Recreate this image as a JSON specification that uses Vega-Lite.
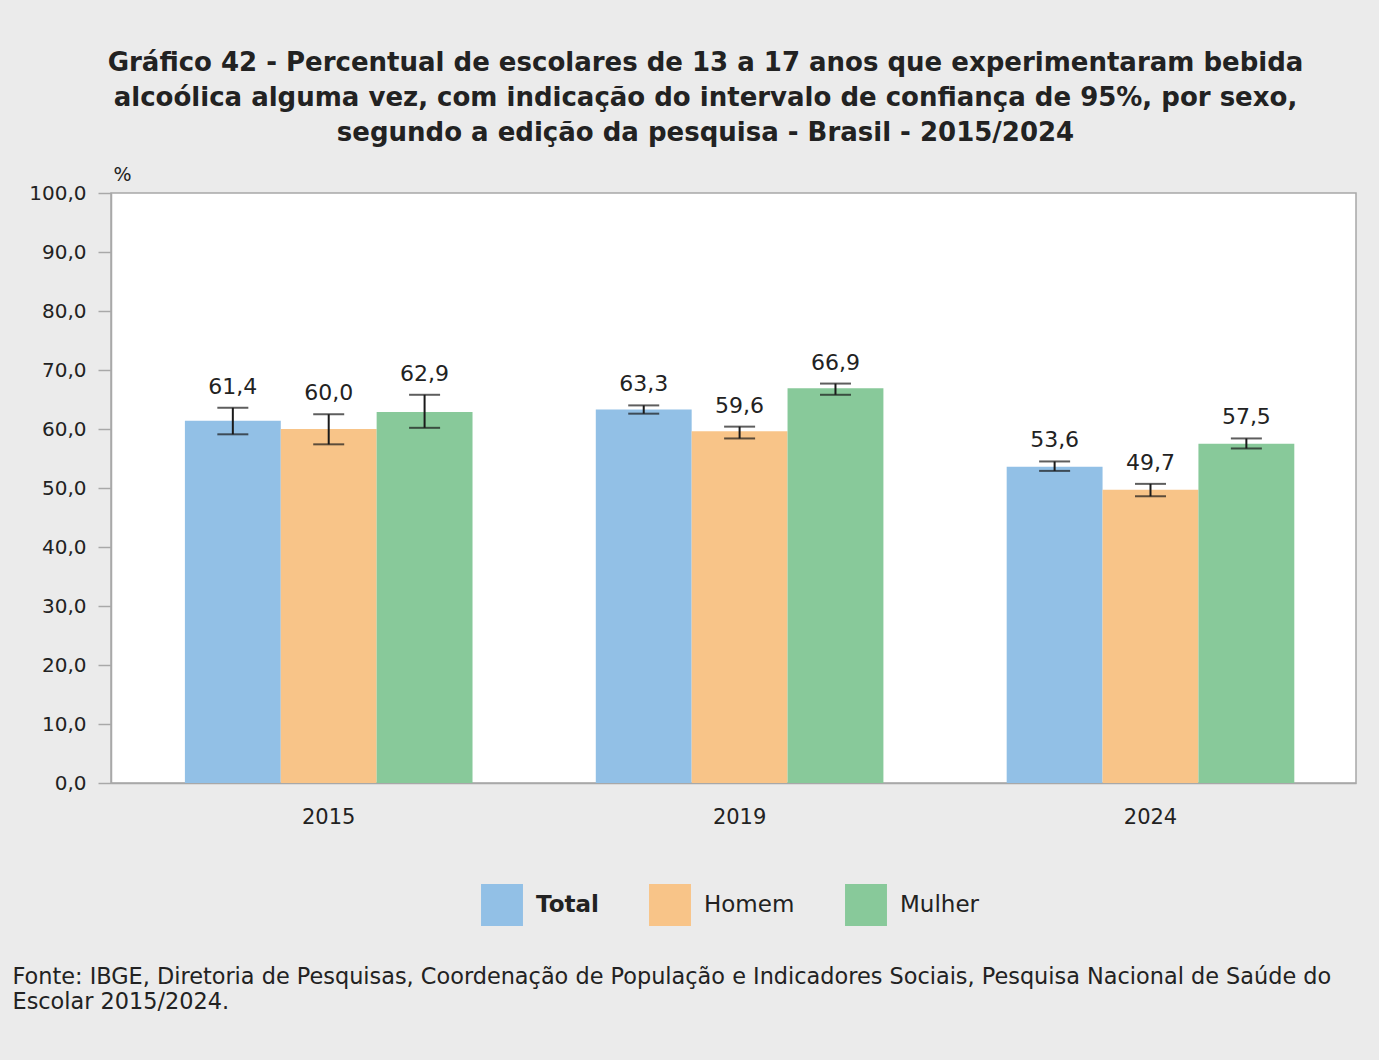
{
  "$schema": "https://vega.github.io/schema/vega-lite/v6.json",
  "background": "#ebebeb",
  "autosize": {"type": "none"},
  "padding": {"left": 111, "top": 193, "right": 23, "bottom": 277},
  "width": 1245,
  "height": 590,
  "config": {
    "locale": {"number": {"decimal": ",", "thousands": ".", "grouping": [3], "currency": ["R$", ""]}},
    "font": "DejaVu Sans",
    "view": {"fill": "white", "stroke": "#a8a8a8", "strokeWidth": 1.5}
  },
  "title": {
    "text": [
      "Gráfico 42 - Percentual de escolares de 13 a 17 anos que experimentaram bebida",
      "alcoólica alguma vez, com indicação do intervalo de confiança de 95%, por sexo,",
      "segundo a edição da pesquisa - Brasil - 2015/2024"
    ],
    "font": "DejaVu Sans",
    "fontSize": 26,
    "fontWeight": "bold",
    "color": "#222222",
    "lineHeight": 35,
    "anchor": "middle",
    "frame": "group",
    "dx": -28,
    "offset": 19
  },
  "data": {
    "values": [
      {"ano": "2015", "sexo": "Total", "valor": 61.4, "lo": 59.1, "hi": 63.6},
      {"ano": "2015", "sexo": "Homem", "valor": 60.0, "lo": 57.4, "hi": 62.5},
      {"ano": "2015", "sexo": "Mulher", "valor": 62.9, "lo": 60.2, "hi": 65.8},
      {"ano": "2019", "sexo": "Total", "valor": 63.3, "lo": 62.6, "hi": 64.0},
      {"ano": "2019", "sexo": "Homem", "valor": 59.6, "lo": 58.4, "hi": 60.4},
      {"ano": "2019", "sexo": "Mulher", "valor": 66.9, "lo": 65.8, "hi": 67.7},
      {"ano": "2024", "sexo": "Total", "valor": 53.6, "lo": 52.9, "hi": 54.5},
      {"ano": "2024", "sexo": "Homem", "valor": 49.7, "lo": 48.6, "hi": 50.7},
      {"ano": "2024", "sexo": "Mulher", "valor": 57.5, "lo": 56.7, "hi": 58.4}
    ]
  },
  "encoding": {
    "x": {
      "field": "ano",
      "type": "nominal",
      "scale": {"paddingInner": 0.3, "paddingOuter": 0.165, "align": 0.545},
      "axis": {
        "title": [
          "Fonte: IBGE, Diretoria de Pesquisas, Coordenação de População e Indicadores Sociais, Pesquisa Nacional de Saúde do",
          "Escolar 2015/2024."
        ],
        "titleAnchor": "start",
        "titleAlign": "left",
        "titleBaseline": "alphabetic",
        "titleAngle": 0,
        "titleX": -99,
        "titleY": 200,
        "titleFontSize": 22.4,
        "titleFontWeight": "normal",
        "titleColor": "#222222",
        "titleLineHeight": 25,
        "titleLimit": 3000,
        "labelAngle": 0,
        "labelFontSize": 21,
        "labelColor": "#222222",
        "labelPadding": 23,
        "ticks": false,
        "domainColor": "#a8a8a8",
        "domainWidth": 1.5
      }
    },
    "xOffset": {"field": "sexo", "type": "nominal", "sort": ["Total", "Homem", "Mulher"]}
  },
  "layer": [
    {
      "mark": {"type": "bar"},
      "encoding": {
        "y": {
          "field": "valor",
          "type": "quantitative",
          "scale": {"domain": [0, 100], "nice": false},
          "axis": {
            "values": [0, 10, 20, 30, 40, 50, 60, 70, 80, 90, 100],
            "format": ".1f",
            "grid": false,
            "labelFontSize": 20,
            "labelColor": "#222222",
            "labelPadding": 12,
            "tickSize": 13,
            "tickColor": "#a8a8a8",
            "tickWidth": 1.5,
            "domainColor": "#a8a8a8",
            "domainWidth": 1.5,
            "title": "%",
            "titleAngle": 0,
            "titleFontSize": 19,
            "titleFontWeight": "normal",
            "titleColor": "#222222",
            "titleAlign": "center",
            "titleBaseline": "bottom",
            "titleX": 11,
            "titleY": -9
          }
        },
        "color": {
          "field": "sexo",
          "type": "nominal",
          "scale": {"domain": ["Total", "Homem", "Mulher"], "range": ["#92c0e6", "#f8c488", "#88c99a"]},
          "legend": {
            "title": null,
            "orient": "none",
            "direction": "horizontal",
            "legendX": 370,
            "legendY": 691,
            "symbolType": "square",
            "symbolSize": 1760,
            "symbolStrokeWidth": 0,
            "labelFontSize": 23,
            "labelColor": "#222222",
            "labelOffset": 13,
            "columnPadding": 50,
            "padding": 0,
            "encode": {
              "labels": {"update": {"fontWeight": {"signal": "datum.label === 'Total' ? 'bold' : 'normal'"}}}
            }
          }
        }
      }
    },
    {
      "mark": {"type": "rule", "color": "#1a1a1a", "strokeWidth": 2},
      "encoding": {
        "y": {"field": "lo", "type": "quantitative"},
        "y2": {"field": "hi"}
      }
    },
    {
      "mark": {"type": "tick", "color": "#1a1a1a", "size": 31, "thickness": 2},
      "encoding": {"y": {"field": "lo", "type": "quantitative"}}
    },
    {
      "mark": {"type": "tick", "color": "#1a1a1a", "size": 31, "thickness": 2},
      "encoding": {"y": {"field": "hi", "type": "quantitative"}}
    },
    {
      "mark": {"type": "text", "fontSize": 22, "color": "#222222", "baseline": "bottom", "dy": -9},
      "encoding": {
        "y": {"field": "hi", "type": "quantitative"},
        "text": {"field": "valor", "type": "quantitative", "format": ".1f"}
      }
    }
  ]
}
